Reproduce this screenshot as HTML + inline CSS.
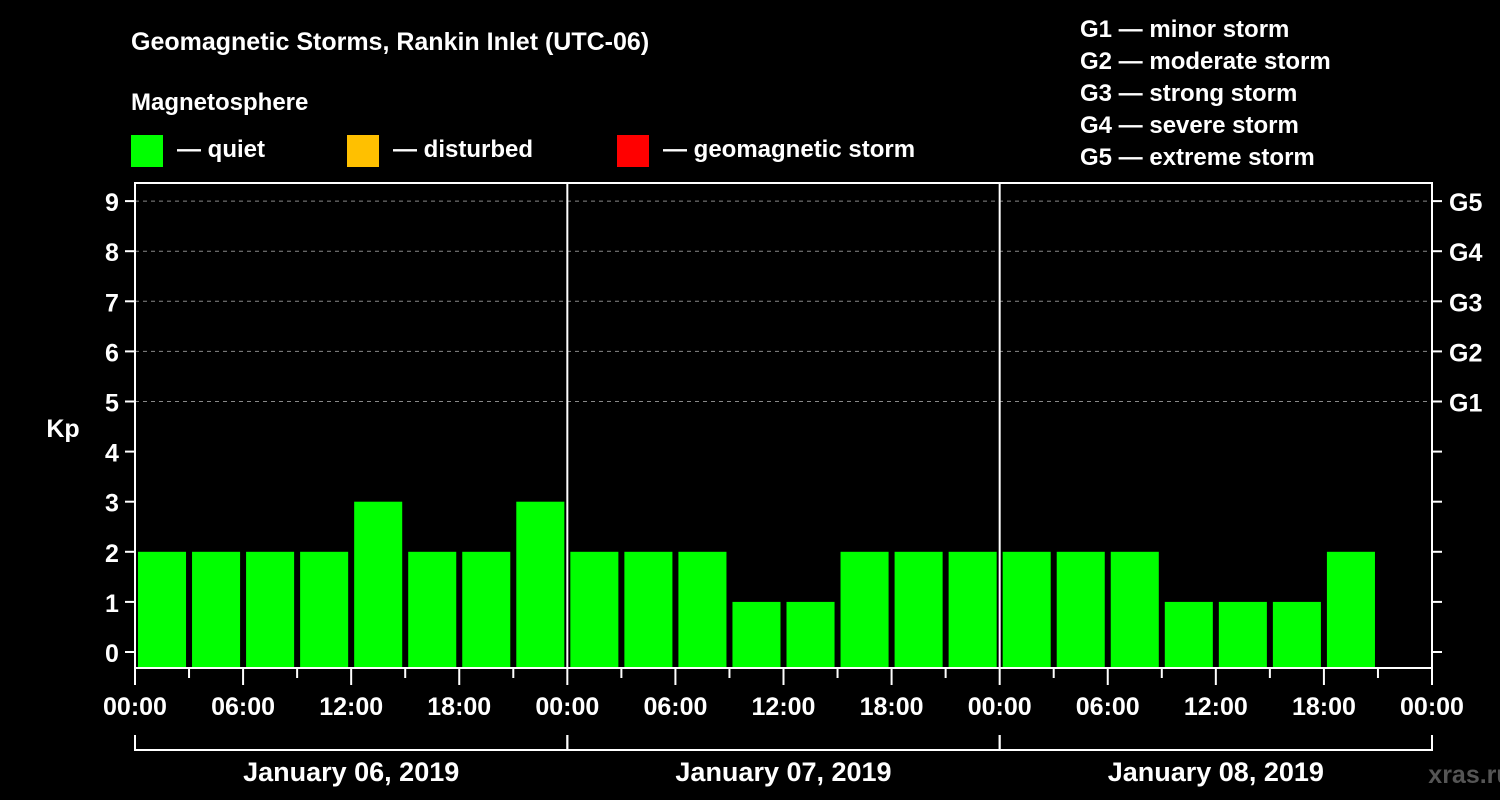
<!DOCTYPE html>
<html><head><meta charset="utf-8"><style>
html,body{margin:0;padding:0;background:#000;}
svg{display:block;font-family:"Liberation Sans",Arial,sans-serif;font-weight:bold;}
</style></head><body>
<svg id="chart" width="1500" height="800" viewBox="0 0 1500 800">
<rect x="0" y="0" width="1500" height="800" fill="#000"/>
<text x="131" y="50" fill="#fff" font-size="25">Geomagnetic Storms, Rankin Inlet (UTC-06)</text>
<text x="131" y="110" fill="#fff" font-size="24">Magnetosphere</text>
<g><rect x="131" y="135" width="32" height="32" fill="#00ff00"/><text x="177" y="157" fill="#fff" font-size="24">— quiet</text></g>
<g><rect x="347" y="135" width="32" height="32" fill="#ffc000"/><text x="393" y="157" fill="#fff" font-size="24">— disturbed</text></g>
<g><rect x="617" y="135" width="32" height="32" fill="#ff0000"/><text x="663" y="157" fill="#fff" font-size="24">— geomagnetic storm</text></g>
<g fill="#fff" font-size="24">
<text x="1080" y="37">G1 — minor storm</text>
<text x="1080" y="69">G2 — moderate storm</text>
<text x="1080" y="101">G3 — strong storm</text>
<text x="1080" y="133">G4 — severe storm</text>
<text x="1080" y="165">G5 — extreme storm</text>
</g>
<text x="63" y="437" fill="#fff" font-size="25" text-anchor="middle">Kp</text>
<text x="1470" y="783" fill="#555" font-size="25" text-anchor="middle">xras.ru</text>
<g id="grid"></g><g id="bars"></g><g id="axes"></g>
</svg>
<script>
const kpValues=[2,2,2,2,3,2,2,3, 2,2,2,1,1,2,2,2, 2,2,2,1,1,1,2];
const yTicks=[0,1,2,3,4,5,6,7,8,9];
const gLabels=["G1","G2","G3","G4","G5"];
const hourLabels=["00:00","06:00","12:00","18:00"];
const dayLabels=["January 06, 2019","January 07, 2019","January 08, 2019"];
const NS="http://www.w3.org/2000/svg";
const L=135,R=1432,T=183,B=668;
const x=h=>L+h*(R-L)/72;
const y=v=>652-v*50.1;
function mk(p,tag,attrs,txt){const e=document.createElementNS(NS,tag);for(const k in attrs)e.setAttribute(k,attrs[k]);if(txt!==undefined)e.textContent=txt;p.appendChild(e);return e;}
const grid=document.getElementById('grid'),bars=document.getElementById('bars'),axes=document.getElementById('axes');
for(let g=0;g<gLabels.length;g++){const v=5+g;
 const l=mk(grid,'line',{x1:L,x2:R,y1:y(v),y2:y(v),stroke:'#888','stroke-dasharray':'4,4','stroke-width':1});
 
 
 const t=mk(axes,'text',{x:1449,y:y(v)+10,fill:'#fff','font-size':25},gLabels[g]);
 
 
}
kpValues.forEach((v,i)=>{
 const c=v>=5?'#ff0000':(v>=4?'#ffc000':'#00ff00');
 const r=mk(bars,'rect',{x:x(i*3)+3,y:y(v),width:x(3)-x(0)-6,height:B-y(v),fill:c});
 
 
});
const frame=mk(axes,'rect',{x:L,y:T,width:R-L,height:B-T,fill:'none',stroke:'#fff','stroke-width':2});


for(let d=1;d<3;d++){const l=mk(axes,'line',{x1:x(d*24),x2:x(d*24),y1:T,y2:B,stroke:'#fff','stroke-width':2});
 
 }
yTicks.forEach(v=>{
 mk(axes,'line',{x1:L-10,x2:L,y1:y(v),y2:y(v),stroke:'#fff','stroke-width':2});
 mk(axes,'line',{x1:R,x2:R+10,y1:y(v),y2:y(v),stroke:'#fff','stroke-width':2});
 const t=mk(axes,'text',{x:112,y:y(v)+10,fill:'#fff','font-size':25,'text-anchor':'middle'},v);
 
 
});
for(let h=0;h<=72;h+=3){const major=h%6===0;
 mk(axes,'line',{x1:x(h),x2:x(h),y1:B,y2:B+(major?17:10),stroke:'#fff','stroke-width':2});
 if(major){const t=mk(axes,'text',{x:x(h),y:715,fill:'#fff','font-size':25,'text-anchor':'middle'},hourLabels[(h/6)%4]);
  
  }
}
dayLabels.forEach((d,i)=>{
 const a=x(i*24),b=x(i*24+24);
 mk(axes,'path',{d:`M${a},735V750H${b}V735`,fill:'none',stroke:'#fff','stroke-width':2});
 const t=mk(axes,'text',{x:(a+b)/2,y:781,fill:'#fff','font-size':27,'text-anchor':'middle'},d);
 
 
});
</script>
</body></html>
